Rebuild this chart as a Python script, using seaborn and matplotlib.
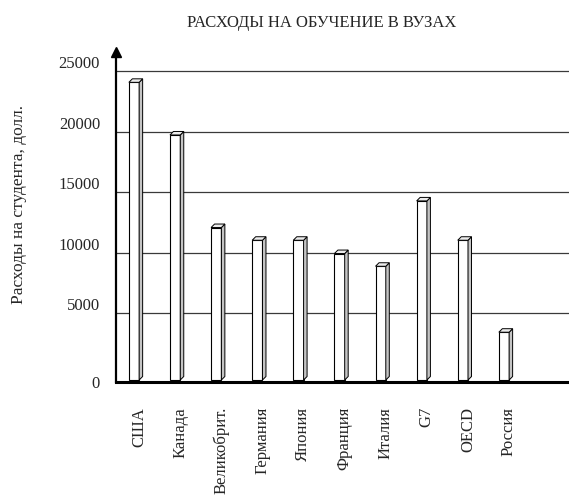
import numpy as np
import pandas as pd
import matplotlib
matplotlib.use('Agg')
import matplotlib.pyplot as plt
import seaborn as sns
from matplotlib.patches import Polygon
from matplotlib.transforms import ScaledTranslation

sns.set_style('white')
plt.rcParams['font.family'] = ['Liberation Serif', 'DejaVu Serif']

countries = ['США', 'Канада', 'Великобрит.', 'Германия', 'Япония',
             'Франция', 'Италия', 'G7', 'OECD', 'Россия']
costs = [24600, 20250, 12600, 11550, 11550, 10450, 9400, 14800, 11550, 3950]
yticks = [0, 5000, 10000, 15000, 20000, 25000]

df = pd.DataFrame({'country': countries, 'cost': costs})

fig = plt.figure(figsize=(5.69, 4.98), dpi=100)
ax = fig.add_axes([116/569, (498-382)/498, 1 - 116/569, (382-52)/498])

sns.barplot(data=df, x='country', y='cost', color='white', saturation=1,
            edgecolor='black', linewidth=0.8, width=0.25, errorbar=None, ax=ax)

# fake 3D: side and top faces
dx = 3.5 / 41.1
dy = 3.5 * 82.64
for p in list(ax.patches):
    x0, w, h = p.get_x(), p.get_width(), p.get_height()
    x1 = x0 + w
    side = Polygon([(x1, 0), (x1, h), (x1 + dx, h + dy), (x1 + dx, dy)],
                   closed=True, facecolor='#c4c4c4', edgecolor='black', lw=0.7, zorder=p.get_zorder())
    top = Polygon([(x0, h), (x1, h), (x1 + dx, h + dy), (x0 + dx, h + dy)],
                  closed=True, facecolor='#ececec', edgecolor='black', lw=0.7, zorder=p.get_zorder())
    ax.add_patch(side)
    ax.add_patch(top)

ax.set_xlim(-18/41.1, 9 + 65/41.1)
ax.set_ylim(-2 * 82.64, (380 - 52) * 82.64)

# back-wall gridlines
wall = ScaledTranslation(0, 6/100, fig.dpi_scale_trans)
for v in yticks[1:]:
    ln = ax.axhline(v, color='#3a3a3a', lw=0.9, zorder=0.5)
    ln.set_transform(ln.get_transform() + wall)

ax.set_yticks([])
for v in yticks:
    off = -4/100 if v == 0 else 13/100
    tr = ax.get_yaxis_transform() + ScaledTranslation(0, off, fig.dpi_scale_trans)
    ax.text(-16/453, v, str(v), transform=tr, ha='right', va='center', fontsize=12)

ax.set_xlabel('')
ax.set_ylabel('')
ax.tick_params(axis='x', length=0, pad=18, labelsize=12)
ax.set_xticks(range(len(countries)))
ax.set_xticklabels(countries, rotation=90, va='top', ha='center')
for lbl in ax.get_xticklabels():
    lbl.set_transform(lbl.get_transform() + ScaledTranslation(5/100, 0, fig.dpi_scale_trans))

for s in ['top', 'right']:
    ax.spines[s].set_visible(False)
ax.spines['left'].set_linewidth(1.6)
ax.spines['left'].set_color('black')
ax.spines['bottom'].set_linewidth(2.2)
ax.spines['bottom'].set_color('black')
ax.plot(0, 1, marker='^', color='black', markersize=7, transform=ax.transAxes, clip_on=False)

fig.text(322/569, 1 - 23/498, 'РАСХОДЫ НА ОБУЧЕНИЕ В ВУЗАХ', ha='center', va='center', fontsize=12)
fig.text(19/569, 1 - 204/498, 'Расходы на студента, долл.', rotation=90, ha='center', va='center', fontsize=12.5)

fig.savefig('out.png', dpi=100)
